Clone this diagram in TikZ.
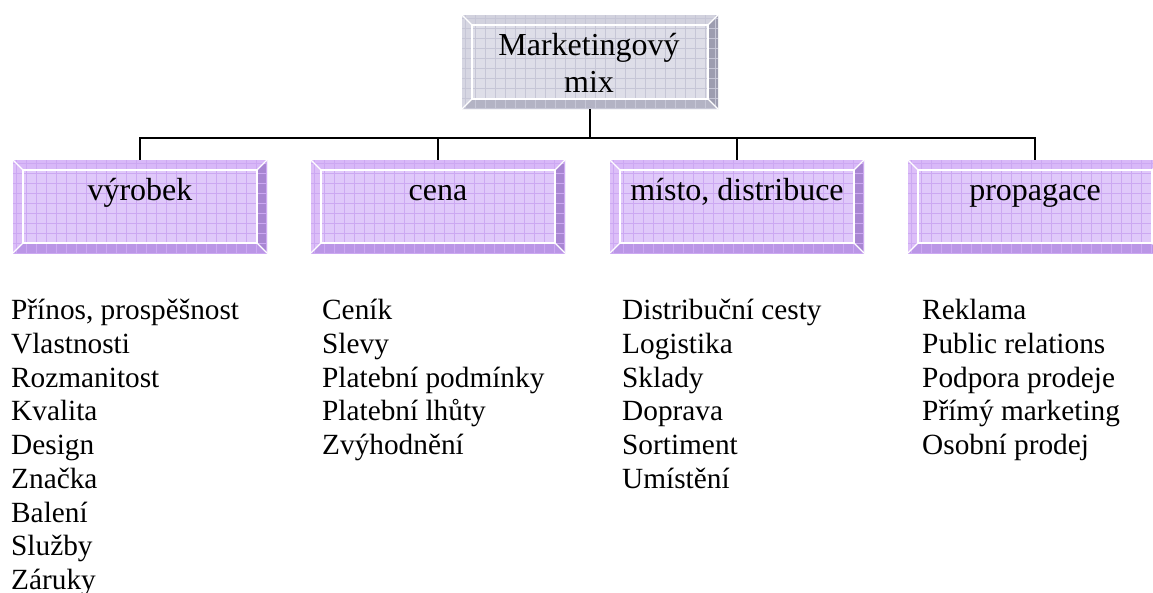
\documentclass[tikz,border=0pt]{standalone}
\usepackage{fontspec}
\setmainfont{Liberation Serif}
\definecolor{pface}{HTML}{E0C9FA}
\definecolor{pgrid}{HTML}{CCA8F2}
\definecolor{ptop}{HTML}{D8B8F8}
\definecolor{pleft}{HTML}{DCBEF8}
\definecolor{pright}{HTML}{A886D2}
\definecolor{pbottom}{HTML}{BA96E6}
\definecolor{gface}{HTML}{DEDEE8}
\definecolor{ggrid}{HTML}{C6C6D6}
\definecolor{gtop}{HTML}{D2D2DE}
\definecolor{gleft}{HTML}{D6D6E2}
\definecolor{gright}{HTML}{9D9DB0}
\definecolor{gbottom}{HTML}{B3B3C4}
\newcommand\bevbox[6]{% name, x1, y1, x2, y2, colour prefix
  \fill[#6face] (#2,#3) rectangle (#4,#5);
  \fill[#6top] (#2,#3) -- (#4,#3) -- ({#4-10},{#3+10}) -- ({#2+10},{#3+10}) -- cycle;
  \fill[#6left] (#2,#3) -- ({#2+10},{#3+10}) -- ({#2+10},{#5-10}) -- (#2,#5) -- cycle;
  \fill[#6right] (#4,#3) -- (#4,#5) -- ({#4-10},{#5-10}) -- ({#4-10},{#3+10}) -- cycle;
  \fill[#6bottom] (#2,#5) -- (#4,#5) -- ({#4-10},{#5-10}) -- ({#2+10},{#5-10}) -- cycle;
  \begin{scope}
    \clip (#2,#3) rectangle (#4,#5);
    \foreach \k in {0,...,26} {\draw[#6grid, line width=0.8pt] ({#2+3+10*\k},#3) -- ({#2+3+10*\k},#5);}
    \foreach \k in {0,...,10} {\draw[#6grid, line width=0.8pt] (#2,{#3+3+10*\k}) -- (#4,{#3+3+10*\k});}
  \end{scope}
  \draw[white, line width=1.6pt] ({#2+10},{#3+10}) rectangle ({#4-10},{#5-10});
  \draw[white, line width=1.2pt] (#2,#3) -- ({#2+10},{#3+10})
     (#4,#3) -- ({#4-10},{#3+10}) (#2,#5) -- ({#2+10},{#5-10}) (#4,#5) -- ({#4-10},{#5-10});
  \node[draw=none, inner sep=0pt, minimum width={#4-#2}, minimum height={#5-#3}]
     (#1) at ({(#2+#4)/2},{(#3+#5)/2}) {};
}
\begin{document}
\begin{tikzpicture}[x=1pt,y=-1pt,
  boxtext/.style={anchor=base, inner sep=0pt, align=center, font=\fontsize{32}{36.8}\selectfont},
  itemlist/.style={anchor=base west, inner sep=0pt, align=left, font=\fontsize{29.3}{33.75}\selectfont},
  conn/.style={draw=black, line width=2pt}]
\clip (0,0) rectangle (1153,592);
\useasboundingbox (0,0) rectangle (1153,592);
\fill[white] (0,0) rectangle (1153,592);

\bevbox{top}{462}{15}{718}{109}{g}
\bevbox{c1}{13}{160}{267}{253}{p}
\bevbox{c2}{311}{160}{565}{253}{p}
\bevbox{c3}{610}{160}{864}{253}{p}
\bevbox{c4}{908}{160}{1162}{253}{p}

% multi-line nodes: anchor=base is the baseline of the last line
\node[boxtext] (ttop) at (589,92) {Marketingový\\mix};
\node[boxtext] (t1) at (140,200.7) {výrobek};
\node[boxtext] (t2) at (438,200.7) {cena};
\node[boxtext] (t3) at (737,200.7) {místo, distribuce};
\node[boxtext] (t4) at (1035,200.7) {propagace};

\path (top.south) ++(0,29) coordinate (j);
\draw[conn] (top.south) -- (j);
\draw[conn] (j) -| (c1.north);
\draw[conn] (j) -| (c2.north);
\draw[conn] (j) -| (c3.north);
\draw[conn] (j) -| (c4.north);

\node[itemlist] (l1) at (11,589.5) {Přínos, prospěšnost\\Vlastnosti\\Rozmanitost\\Kvalita\\Design\\Značka\\Balení\\Služby\\Záruky};
\node[itemlist] (l2) at (322,454.5) {Ceník\\Slevy\\Platební podmínky\\Platební lhůty\\Zvýhodnění};
\node[itemlist] (l3) at (622,488.25) {Distribuční cesty\\Logistika\\Sklady\\Doprava\\Sortiment\\Umístění};
\node[itemlist] (l4) at (922,454.5) {Reklama\\Public relations\\Podpora prodeje\\Přímý marketing\\Osobní prodej};
\end{tikzpicture}
\end{document}
